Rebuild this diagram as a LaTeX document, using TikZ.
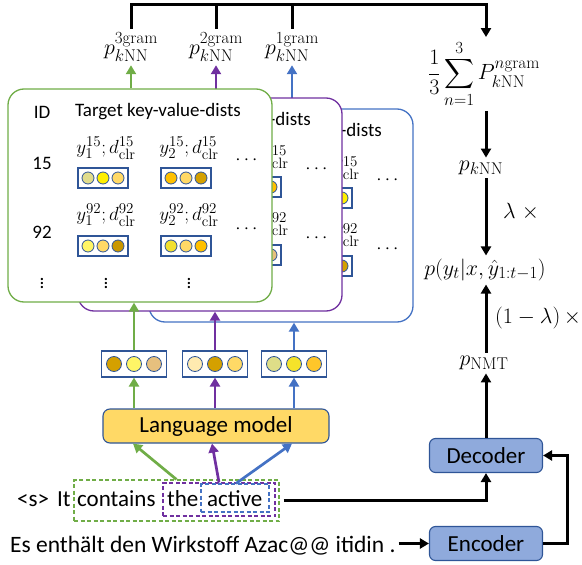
\RequirePackage{fix-cm}
\documentclass[tikz,border=0pt]{standalone}
\usepackage{amsmath}
\usepackage[no-math]{fontspec}
\setmainfont{Carlito}
\usetikzlibrary{arrows.meta}
\DeclareMathSizes{22}{22}{17}{13}
\DeclareMathSizes{23}{23}{17.5}{13}
\DeclareMathSizes{19}{19}{15}{11}
\definecolor{cgreen}{HTML}{70AD47}
\definecolor{cpurple}{HTML}{7030A0}
\definecolor{cblue}{HTML}{4472C4}
\definecolor{vbord}{HTML}{2F5597}
\definecolor{lmfill}{HTML}{FFD966}
\definecolor{edfill}{HTML}{8FAADC}
\definecolor{khaki}{HTML}{E0DC8C}
\definecolor{brYel}{HTML}{FFEF00}
\definecolor{ltOr}{HTML}{FFD966}
\definecolor{gOr}{HTML}{FFC000}
\definecolor{dGold}{HTML}{D4A000}
\definecolor{ltYel}{HTML}{FFF566}
\definecolor{dGoldB}{HTML}{C99700}
\definecolor{yelB}{HTML}{F2E030}
\definecolor{tanC}{HTML}{E6C07E}
\definecolor{cream}{HTML}{FFEAB0}
\definecolor{khakiB}{HTML}{DEDE88}
\definecolor{yelC}{HTML}{F5E32A}
\definecolor{gOrB}{HTML}{FFC62A}
\newcommand\myfs[1]{\fontsize{#1}{#1}\selectfont}
\newcommand\kvecS[5]{%
  \node[vbx, minimum width=50pt, minimum height=20pt] (#1) at #2 {};
  \filldraw[fill=#3, cdot] ([xshift=-15pt]#1.center) circle[radius=6pt];
  \filldraw[fill=#4, cdot] (#1.center) circle[radius=6pt];
  \filldraw[fill=#5, cdot] ([xshift=15pt]#1.center) circle[radius=6pt];}
\newcommand\kvecL[5]{%
  \node[vbx, minimum width=65pt, minimum height=26pt] (#1) at #2 {};
  \filldraw[fill=#3, cdot] ([xshift=-20pt]#1.center) circle[radius=7.5pt];
  \filldraw[fill=#4, cdot] (#1.center) circle[radius=7.5pt];
  \filldraw[fill=#5, cdot] ([xshift=20pt]#1.center) circle[radius=7.5pt];}
% parts of a card that show on every card (the others are hidden on the back cards)
\newcommand\kcard[6]{%
  \begin{scope}[shift={(#2,#3)}]
    \node[card, draw=#4] (#1card) at (140,195.5) {};
    \node[ctext] (#1tg) at (158,112) {Target key-value-dists};
    \node[clab] (#1lb) at (189,148) {$y_2^{15};d_{\mathrm{clr}}^{15}$};
    \node[clab] (#1ld) at (189,215) {$y_2^{92};d_{\mathrm{clr}}^{92}$};
    \node[clab] (#1ha) at (248,160) {$\cdots$};
    \node[clab] (#1hb) at (248,229) {$\cdots$};
    \kvecS{#1bb}{(186,178)}{gOr}{ltOr}{#5}
    \kvecS{#1bd}{(186,246)}{yelB}{ltOr}{#6}
  \end{scope}}
\tikzset{
  card/.style={fill=white, line width=1.3pt, rounded corners=16pt, minimum width=264pt, minimum height=213pt, inner sep=0pt},
  ctext/.style={font=\myfs{19}, inner sep=1pt},
  clab/.style={font=\myfs{19}, inner sep=1pt},
  vbx/.style={draw=vbord, line width=1.1pt, fill=white, inner sep=0pt},
  cdot/.style={draw=vbord, line width=0.8pt},
  tip/.style={-{Triangle[length=9pt,width=10pt]}},
  garr/.style={draw=cgreen, line width=2.7pt, tip},
  parr/.style={draw=cpurple, line width=2.7pt, tip},
  barr/.style={draw=cblue, line width=2.7pt, tip},
  blk/.style={line width=3pt},
  blka/.style={blk, tip},
  mth/.style={font=\myfs{22}},
  sent/.style={font=\myfs{23}, inner sep=0pt, anchor=base west},
  dbox/.style={dash pattern=on 4pt off 2.5pt, line width=1.1pt, inner sep=0pt},
  boxed/.style={rounded corners=6pt, draw=vbord, line width=1.1pt, minimum width=113pt, minimum height=34pt, font=\myfs{23}, inner sep=0pt},
  lmbox/.style={rounded corners=7pt, draw=vbord, fill=lmfill, line width=1.1pt, minimum width=226pt, minimum height=34pt, font=\myfs{23}, inner sep=0pt}
}
\begin{document}
\begin{tikzpicture}[x=1pt, y=-1pt]
\useasboundingbox (0,0) rectangle (582,565);
% top labels
\node[mth] (p3) at (131,47) {$p^{\mathrm{3gram}}_{k\mathrm{NN}}$};
\node[mth] (p2) at (216,47) {$p^{\mathrm{2gram}}_{k\mathrm{NN}}$};
\node[mth] (p1) at (292,47) {$p^{\mathrm{1gram}}_{k\mathrm{NN}}$};
% cards, back to front
\kcard{bl}{141}{20}{cblue}{brYel}{dGold}
\draw[barr] (blcard.north -| p1.south) -- (p1.south);
\kcard{pu}{70}{9}{cpurple}{gOr}{tanC}
\draw[parr] (pucard.north -| p2.south) -- (p2.south);
\kcard{g}{0}{0}{cgreen}{dGold}{gOr}
\node[ctext] (gid) at (42,112) {ID};
\node[ctext] (gna) at (42,163) {15};
\node[ctext] (gnb) at (42,232) {92};
\node[clab] (gla) at (106,148) {$y_1^{15};d_{\mathrm{clr}}^{15}$};
\node[clab] (glc) at (106,215) {$y_1^{92};d_{\mathrm{clr}}^{92}$};
\node[clab] (gva) at (42,280) {$\vdots$};
\node[clab] (gvb) at (106,280) {$\vdots$};
\node[clab] (gvc) at (189,280) {$\vdots$};
\kvecS{gba}{(103,178)}{khaki}{brYel}{ltOr}
\kvecS{gbc}{(103,246)}{ltYel}{ltOr}{dGoldB}
\draw[garr] (gcard.north -| p3.south) -- (p3.south);
% vectors
\kvecL{gv}{(134,364)}{dGold}{ltYel}{tanC}
\kvecL{pv}{(215,364)}{cream}{dGold}{ltOr}
\kvecL{bv}{(294,364)}{khakiB}{yelC}{gOrB}
\draw[garr] (gv.north) -- (gv.north |- gcard.south);
\draw[parr] (pv.north) -- (pv.north |- pucard.south);
\draw[barr] (bv.north) -- (bv.north |- blcard.south);
% language model
\node[lmbox] (lm) at (216,426) {Language model};
\draw[garr] (lm.north -| gv.south) -- (gv.south);
\draw[parr] (lm.north -| pv.south) -- (pv.south);
\draw[barr] (lm.north -| bv.south) -- (bv.south);
% sentence
\node[sent] (w1) at (17,506) {<s>};
\node[sent] (w2) at (57,506) {It};
\node[sent] (w3) at (77,506) {contains};
\node[sent] (w4) at (167,506) {the};
\node[sent] (w5) at (207,506) {active};
\node[dbox, draw=cgreen, minimum width=205pt, minimum height=41pt] (gbox) at (176.5,500.5) {};
\node[dbox, draw=cpurple, minimum width=112pt, minimum height=33pt] (pbox) at (219,499.5) {};
\node[dbox, draw=cblue, minimum width=68pt, minimum height=28pt] (bbox) at (235,498) {};
\draw[garr] (gbox.north) -- ([xshift=-83pt]lm.south);
\draw[parr] (pbox.north) -- ([xshift=-4pt]lm.south);
\draw[barr] ([xshift=1pt]bbox.north) -- ([xshift=76pt]lm.south);
\node[sent] (es) at (10,552) {\fontsize{23.5}{24}\selectfont Es enthält den Wirkstoff Azac@@ itidin .};
% right column
\node[boxed, fill=edfill] (dec) at (486,455.5) {Decoder};
\node[boxed, fill=edfill] (enc) at (486,543.5) {Encoder};
\node[mth] (sum) at (484,74) {$\displaystyle\frac{1}{3}\sum_{n=1}^{3}P^{n\mathrm{gram}}_{k\mathrm{NN}}$};
\node[mth] (pknn) at (481,168) {$p_{k\mathrm{NN}}$};
\node[mth] (pyt) at (485,270) {$p(y_t|x,\hat{y}_{1:t-1})$};
\node[mth] (pnmt) at (484,363) {$p_{\mathrm{NMT}}$};
\node[mth, anchor=west, inner sep=0pt] (lam) at (503,212) {$\lambda\;\times$};
\node[mth, anchor=west, inner sep=0pt] (olam) at (495,318) {$(1-\lambda)\,\times$};
\coordinate (topr) at (486,4);
\draw[blka] (p3.north) |- (topr) -- (sum.north -| topr);
\draw[blk] (p2.north) -- (p2.north |- topr);
\draw[blk] (p1.north) -- (p1.north |- topr);
\draw[blka] (sum.south -| dec.north) -- (pknn.north -| dec.north);
\draw[blka] (pknn.south -| dec.north) -- (pyt.north -| dec.north);
\draw[blka] (pnmt.north -| dec.north) -- (pyt.south -| dec.north);
\draw[blka] (dec.north) -- (pnmt.south -| dec.north);
\draw[blka] ([xshift=4pt]gbox.east) -| (dec.south);
\draw[blka] ([xshift=3pt]es.east |- enc.west) -- (enc.west);
\draw[blka] (enc.east) -- ++(24,0) |- (dec.east);
\end{tikzpicture}
\end{document}
